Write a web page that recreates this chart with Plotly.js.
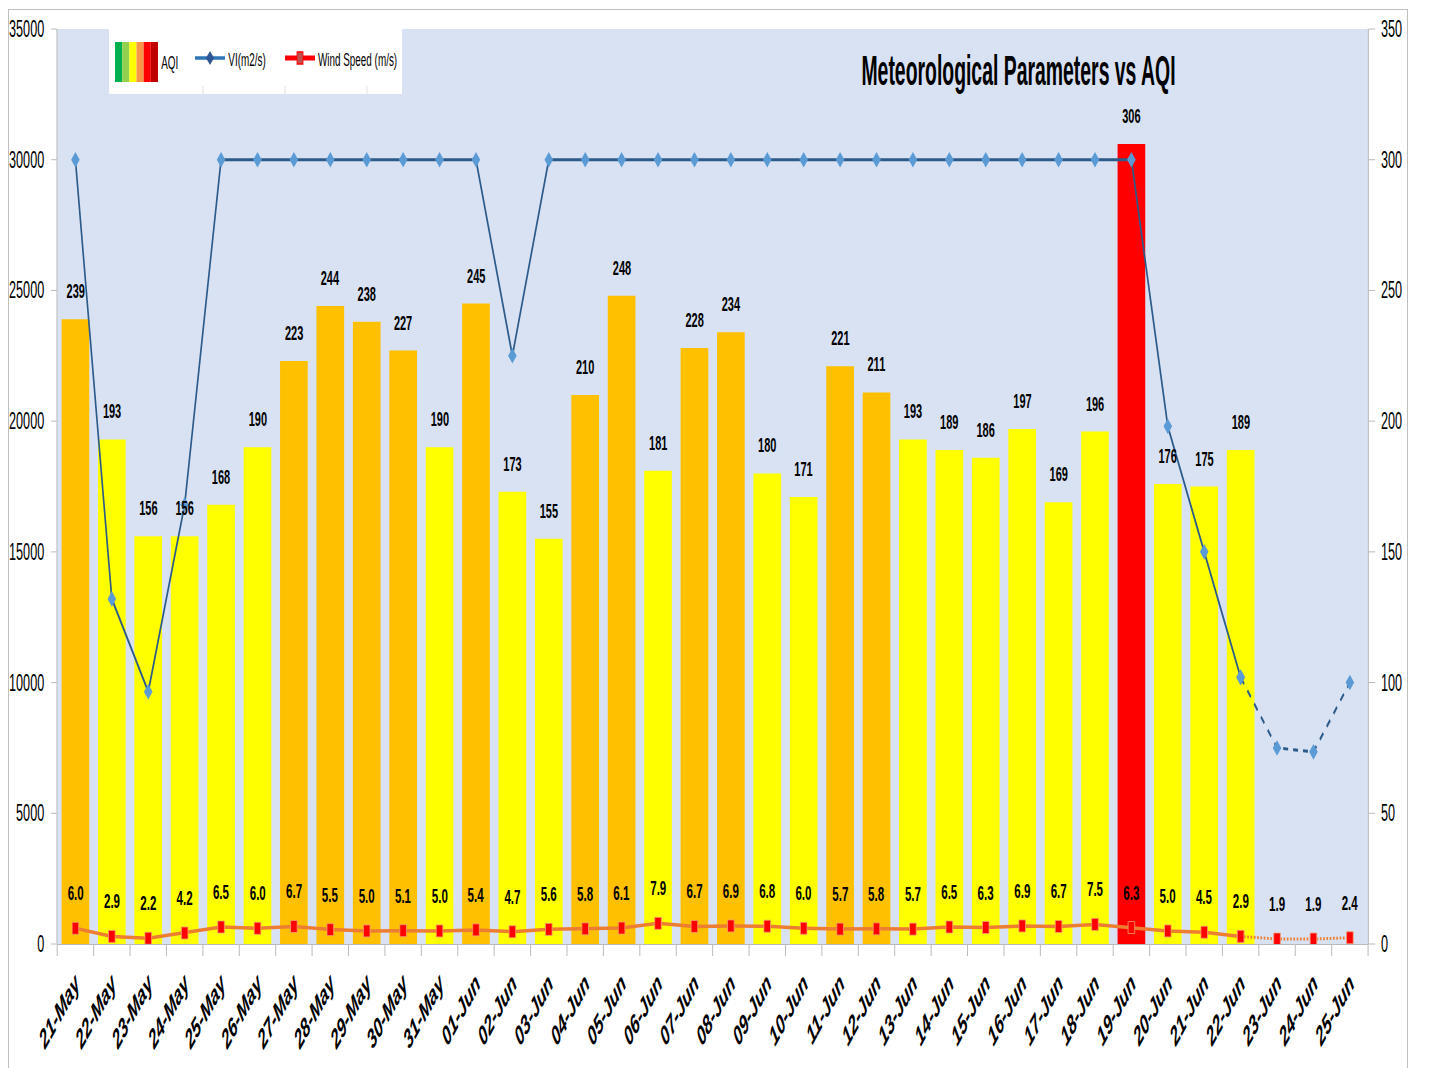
<!DOCTYPE html>
<html>
<head>
<meta charset="utf-8">
<script src="https://cdn.plot.ly/plotly-3.0.1.min.js"></script>
<style>
  html, body { margin: 0; padding: 0; background: #ffffff; }
  #wrap { position: relative; width: 1433px; height: 1068px; overflow: hidden; background: #ffffff; }
  #chart { position: absolute; left: 0; top: 0; width: 2605px; height: 1068px; transform: scaleX(0.550096); transform-origin: 0 0; }
  #frame { position: absolute; left: 8px; top: 9px; width: 1398px; height: 1100px; border: 1px solid #BFBFBF; pointer-events: none; }
</style>
</head>
<body>
<div id="wrap">
  <div id="chart"></div>
  <div id="frame"></div>
</div>
<script>
// ---------------- DATA ----------------
const dates = ["21-May","22-May","23-May","24-May","25-May","26-May","27-May","28-May","29-May","30-May","31-May",
  "01-Jun","02-Jun","03-Jun","04-Jun","05-Jun","06-Jun","07-Jun","08-Jun","09-Jun","10-Jun","11-Jun","12-Jun",
  "13-Jun","14-Jun","15-Jun","16-Jun","17-Jun","18-Jun","19-Jun","20-Jun","21-Jun","22-Jun","23-Jun","24-Jun","25-Jun"];

const aqi = [239,193,156,156,168,190,223,244,238,227,190,
  245,173,155,210,248,181,228,234,180,171,221,211,
  193,189,186,197,169,196,306,176,175,189];

const vi = [30000,13200,9650,16800,30000,30000,30000,30000,30000,30000,30000,
  30000,22500,30000,30000,30000,30000,30000,30000,30000,30000,30000,30000,
  30000,30000,30000,30000,30000,30000,30000,19800,15000,10200,7500,7350,10000];

const wind = [6.0,2.9,2.2,4.2,6.5,6.0,6.7,5.5,5.0,5.1,5.0,
  5.4,4.7,5.6,5.8,6.1,7.9,6.7,6.9,6.8,6.0,5.7,5.8,
  5.7,6.5,6.3,6.9,6.7,7.5,6.3,5.0,4.5,2.9,1.9,1.9,2.4];

const nObserved = aqi.length; // last observed day (22-Jun); the rest is forecast

// ---------------- STYLE / LAYOUT HELPERS ----------------
const S = 1433 / 2605;            // horizontal compression applied by CSS
const ML = 104, MR = 118, MT = 29, MB = 124;
const PW = 2605 - ML - MR, PH = 1068 - MT - MB;
function px(xr) { return (xr / S - ML) / PW; }       // real pixel x -> paper
function py(yr) { return (1068 - MB - yr) / PH; }    // real pixel y -> paper

function aqiColor(v) {
  if (v > 300) return "#FF0000";
  if (v > 200) return "#FFC000";
  return "#FFFF00";
}

const FONT = "Liberation Sans, Arial, sans-serif";

const obsDates = dates.slice(0, nObserved);
const fcDates = dates.slice(nObserved - 1);

const traces = [
  {
    type: "bar", name: "AQI", x: obsDates, y: aqi, yaxis: "y",
    marker: { color: aqi.map(aqiColor), line: { width: 0 } },
    showlegend: false
  },
  {
    type: "scatter", mode: "lines+markers", name: "VI (m2/s)",
    x: obsDates, y: vi.slice(0, nObserved), yaxis: "y2",
    line: { color: "#2C5B8A", width: 3 },
    marker: { symbol: "diamond", size: 12, color: "#5B9BD5" },
    showlegend: false
  },
  {
    type: "scatter", mode: "lines+markers", name: "VI (m2/s) forecast",
    x: fcDates, y: vi.slice(nObserved - 1), yaxis: "y2",
    line: { color: "#2C5B8A", width: 3, dash: "dash" },
    marker: { symbol: "diamond", size: 12, color: "#5B9BD5" },
    showlegend: false
  },
  {
    type: "scatter", mode: "lines+markers", name: "Wind Speed (m/s)",
    x: obsDates, y: wind.slice(0, nObserved), yaxis: "y",
    line: { color: "#ED7D31", width: 3.5 },
    marker: { symbol: "square", size: 12, color: "#FF0000", line: { width: 1, color: "#F4A070" } },
    showlegend: false
  },
  {
    type: "scatter", mode: "lines+markers", name: "Wind Speed forecast",
    x: fcDates, y: wind.slice(nObserved - 1), yaxis: "y",
    line: { color: "#ED7D31", width: 3, dash: "dot" },
    marker: { symbol: "square", size: 12, color: "#FF0000", line: { width: 1, color: "#F4A070" } },
    showlegend: false
  }
];

// data labels
const annotations = [];
aqi.forEach(function (v, i) {
  annotations.push({
    x: dates[i], y: v, xref: "x", yref: "y", text: String(v), showarrow: false,
    yanchor: "bottom", yshift: 15, font: { family: FONT, size: 20, weight: 700, color: "#000" }
  });
});
wind.forEach(function (v, i) {
  annotations.push({
    x: dates[i], y: v, xref: "x", yref: "y", text: v.toFixed(1), showarrow: false,
    yanchor: "bottom", yshift: 22, font: { family: FONT, size: 21, weight: 700, color: "#000" }
  });
});

// custom legend texts
const legFont = { family: FONT, size: 18, color: "#000" };
annotations.push({ xref: "paper", yref: "paper", x: px(160), y: py(63), xanchor: "left", yanchor: "middle", text: "AQI", showarrow: false, font: legFont });
annotations.push({ xref: "paper", yref: "paper", x: px(227), y: py(60), xanchor: "left", yanchor: "middle", text: "VI(m2/s)", showarrow: false, font: legFont });
annotations.push({ xref: "paper", yref: "paper", x: px(317), y: py(60), xanchor: "left", yanchor: "middle", text: "Wind Speed (m/s)", showarrow: false, font: legFont });

// custom legend glyphs
const shapes = [];
shapes.push({ type: "rect", xref: "paper", yref: "paper", x0: px(109), x1: px(402), y0: py(94), y1: py(29), fillcolor: "#FFFFFF", line: { width: 0 }, layer: "above" });
[203, 285, 367].forEach(function (xr) {
  shapes.push({ type: "line", xref: "paper", yref: "paper", x0: px(xr), x1: px(xr), y0: py(94), y1: py(86), line: { color: "#D9D9D9", width: 1 }, layer: "above" });
});
const legendStripes = ["#00B050", "#92D050", "#FFFF00", "#F79646", "#FF0000", "#C00000"];
legendStripes.forEach(function (c, i) {
  const w = 43 / legendStripes.length;
  shapes.push({ type: "rect", xref: "paper", yref: "paper", x0: px(115 + i * w), x1: px(115 + (i + 1) * w), y0: py(82), y1: py(42), fillcolor: c, line: { width: 0 }, layer: "above" });
});
shapes.push({ type: "line", xref: "paper", yref: "paper", x0: px(195), x1: px(225), y0: py(58), y1: py(58), line: { color: "#2E75B6", width: 3.5 }, layer: "above" });
shapes.push({ type: "path", xref: "paper", yref: "paper", layer: "above",
  path: "M " + px(206) + "," + py(58) + " L " + px(210) + "," + py(51) + " L " + px(214) + "," + py(58) + " L " + px(210) + "," + py(65) + " Z",
  fillcolor: "#2F5597", line: { width: 0 } });
shapes.push({ type: "line", xref: "paper", yref: "paper", x0: px(285), x1: px(315), y0: py(58), y1: py(58), line: { color: "#FF0000", width: 5 }, layer: "above" });
shapes.push({ type: "rect", xref: "paper", yref: "paper", x0: px(297), x1: px(303), y0: py(64), y1: py(52), fillcolor: "#C0504D", line: { color: "#FF0000", width: 1.5 }, layer: "above" });

const axisLine = "#A6A6A6";
const layout = {
  width: 2605, height: 1068,
  margin: { l: ML, r: MR, t: MT, b: MB, pad: 0 },
  paper_bgcolor: "#FFFFFF",
  plot_bgcolor: "#D9E2F3",
  font: { family: FONT, color: "#000" },
  showlegend: false,
  bargap: 0.24,
  title: {
    text: "Meteorological Parameters vs AQI",
    xref: "paper", x: px(1018.5), xanchor: "center",
    yref: "container", y: 1 - 70 / 1068, yanchor: "middle",
    font: { family: FONT, size: 42, weight: 700, color: "#000" }
  },
  xaxis: {
    type: "category", categoryorder: "array", categoryarray: dates,
    range: [-0.5, dates.length - 0.5],
    tickangle: -45,
    tickfont: { family: FONT, size: 27, weight: 700, style: "italic", color: "#000" },
    ticks: "outside", tickson: "boundaries", ticklen: 11, tickcolor: axisLine, tickwidth: 1,
    ticklabelstandoff: 12,
    showline: true, linecolor: axisLine, linewidth: 1,
    showgrid: false, zeroline: false, fixedrange: true
  },
  yaxis: {
    side: "right", range: [0, 350], dtick: 50, tick0: 0, tickformat: "d",
    ticks: "outside", ticklen: 12, tickcolor: axisLine, ticklabelstandoff: 6,
    tickfont: { family: FONT, size: 23, color: "#000" },
    showline: true, linecolor: axisLine, linewidth: 1,
    showgrid: false, zeroline: false, fixedrange: true
  },
  yaxis2: {
    side: "left", overlaying: "y", range: [0, 35000], dtick: 5000, tick0: 0, tickformat: "d",
    ticks: "outside", ticklen: 10, tickcolor: axisLine, ticklabelstandoff: 8,
    tickfont: { family: FONT, size: 23, color: "#000" },
    showline: true, linecolor: axisLine, linewidth: 1,
    showgrid: false, zeroline: false, fixedrange: true
  },
  annotations: annotations,
  shapes: shapes
};

Plotly.newPlot("chart", traces, layout, { displayModeBar: false, staticPlot: true }).then(function (gd) {
  // condense the title a little more, as in the original chart
  const t = gd.querySelector(".gtitle");
  if (t) {
    t.style.transformBox = "fill-box";
    t.style.transformOrigin = "center";
    t.style.transform = "scaleX(0.84)";
  }
});
</script>
</body>
</html>
